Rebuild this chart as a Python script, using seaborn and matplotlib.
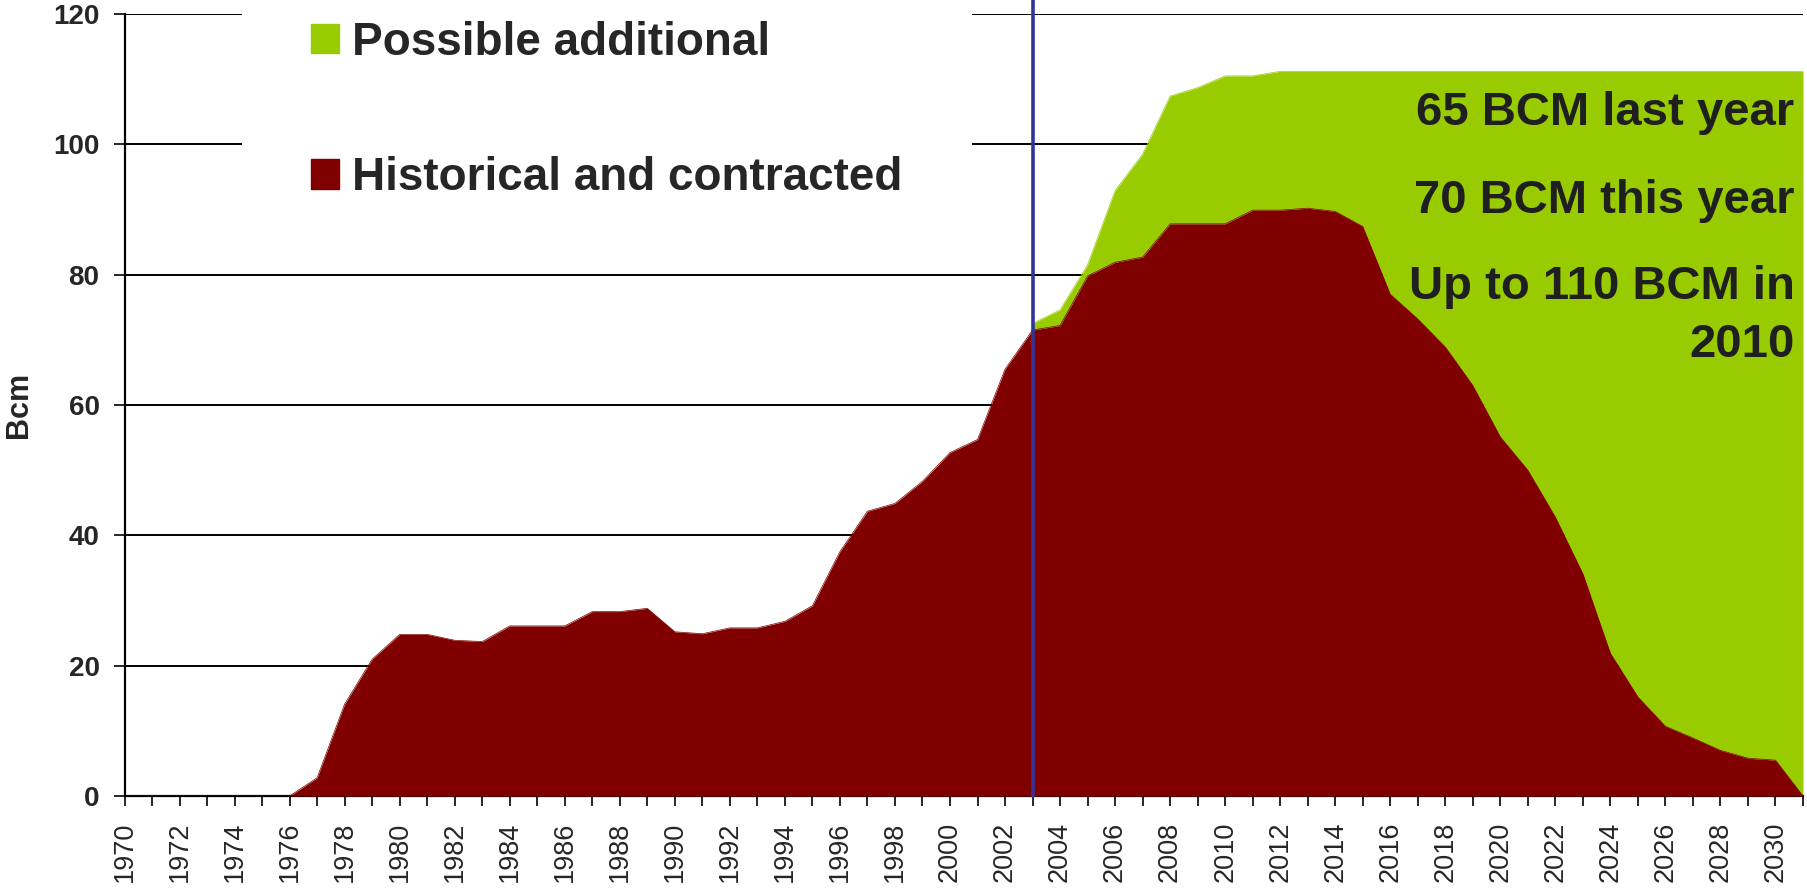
import seaborn as sns
import matplotlib.pyplot as plt
from matplotlib.patches import Patch

# Years on the category axis (one tick per year)
years = list(range(1970, 2032))

# Historical and contracted volumes (Bcm), one per year 1970-2031
historical = [0, 0, 0, 0, 0, 0, 0, 2.8, 14.1, 21.0,
              24.8, 24.8, 23.9, 23.7, 26.1, 26.1, 26.1, 28.3, 28.3, 28.8,
              25.2, 24.9, 25.8, 25.8, 26.8, 29.2, 37.5, 43.7, 44.9, 48.3,
              52.7, 54.7, 65.5, 71.5, 72.2, 79.8, 81.9, 82.7, 87.8, 87.8,
              87.8, 89.9, 89.9, 90.2, 89.7, 87.4, 77.0, 73.2, 68.9, 63.0,
              55.1, 50.0, 42.8, 34.1, 21.9, 15.2, 10.7, 8.9, 7.0, 5.8,
              5.5, 0]

# Top of the "possible additional" band (Bcm), 2003-2031
outlook_years = list(range(2003, 2032))
outlook_total = [72.5, 74.6, 81.5, 92.9, 98.5, 107.4, 108.7, 110.5, 110.5, 111.2,
                 111.2, 111.2, 111.2, 111.2, 111.2, 111.2, 111.2, 111.2, 111.2, 111.2,
                 111.2, 111.2, 111.2, 111.2, 111.2, 111.2, 111.2, 111.2, 111.2]

y_ticks = [0, 20, 40, 60, 80, 100, 120]
notes = ["65 BCM last year", "70 BCM this year", "Up to 110 BCM in", "2010"]
note_y = [102.9, 89.5, 76.3, 67.3]

maroon = "#800000"
green = "#99CC00"
blue = "#333399"

sns.set_style("white")
plt.rcParams["font.family"] = ["Liberation Sans", "DejaVu Sans"]

fig = plt.figure(figsize=(18.07, 8.90), dpi=100)
ax = fig.add_axes([124.5 / 1807, 1 - 796 / 890, (1803 - 124.5) / 1807, (796 - 14) / 890])

# Historical area
sns.lineplot(x=years, y=historical, color=maroon, lw=0.5, ax=ax, zorder=3)
ax.fill_between(years, 0, historical, color=maroon, lw=0, zorder=3)

# Possible additional band on top of historical
hist_tail = historical[years.index(2003):]
sns.lineplot(x=outlook_years, y=outlook_total, color=green, lw=0.5, ax=ax, zorder=2)
ax.fill_between(outlook_years, hist_tail, outlook_total, color=green, lw=0, zorder=2)

# Vertical marker at 2003
ax.axvline(2003, ymin=0, ymax=1 + 14 / 782, color=blue, lw=2.6, clip_on=False, zorder=5)

ax.set_xlim(1970, 2031)
ax.set_ylim(0, 120)

ax.set_yticks(y_ticks)
ax.set_yticklabels([str(v) for v in y_ticks], fontsize=20, fontweight="bold")
ax.set_xticks(years)
ax.set_xticklabels([str(y) if y % 2 == 0 else "" for y in years], rotation=90, fontsize=19.5)

ax.tick_params(axis="y", direction="out", length=8, width=1.4, pad=10, left=True)
ax.tick_params(axis="x", direction="out", length=7.5, width=1.4, pad=11, bottom=True)

ax.yaxis.grid(True, color="black", lw=1.4)
ax.xaxis.grid(False)
ax.set_axisbelow(True)

sns.despine(ax=ax)
for side in ["left", "bottom"]:
    ax.spines[side].set_color("black")
    ax.spines[side].set_linewidth(1.6)

ax.set_ylabel("Bcm", fontsize=22, fontweight="bold", labelpad=14)
ax.set_xlabel("")

for text, yv in zip(notes, note_y):
    ax.text(0.995, yv, text, transform=ax.get_yaxis_transform(), ha="right", va="baseline",
            fontsize=34, fontweight="bold", color="#1f1f1f", zorder=6)

handles = [Patch(color=green, label="Possible additional"),
           Patch(color=maroon, label="Historical and contracted")]
leg = ax.legend(handles=handles, loc="lower left", bbox_to_anchor=(242 / 1807, 1 - 269 / 890),
                bbox_transform=fig.transFigure, prop={"size": 33, "weight": "bold"},
                frameon=True, facecolor="white", edgecolor="none", framealpha=1, fancybox=False,
                borderpad=1.5, borderaxespad=0, labelspacing=2.0, handlelength=0.61,
                handleheight=0.61, handletextpad=0.3)
leg.set_zorder(4)

fig.savefig("out.png", dpi=100)
